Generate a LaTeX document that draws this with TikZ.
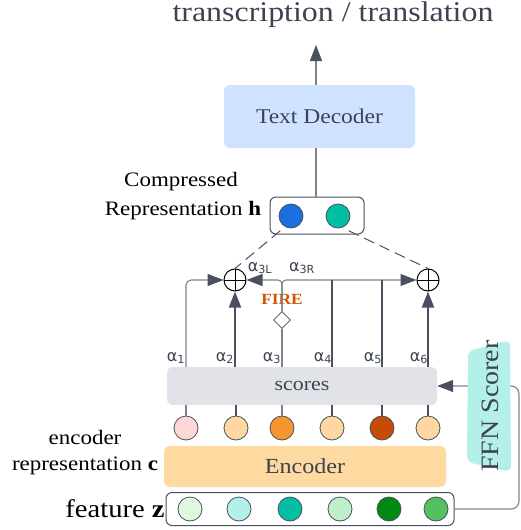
\documentclass[tikz,border=0pt]{standalone}
\usepackage{fontspec}
\setmainfont[FakeStretch=1.12]{Liberation Serif}
\newfontfamily\alfont{DejaVu Sans}
\usetikzlibrary{arrows.meta,shapes.geometric,calc}
\definecolor{txt}{HTML}{3D4350}
\definecolor{ln}{HTML}{7B8290}
\definecolor{dk}{HTML}{4A5060}
\definecolor{decb}{HTML}{CFE2FF}
\definecolor{scb}{HTML}{E1E3E8}
\definecolor{encb}{HTML}{FED9A0}
\definecolor{ffnb}{HTML}{B4F0EA}
\definecolor{fire}{HTML}{D35400}
\definecolor{hA}{HTML}{1A6FDF}
\definecolor{hB}{HTML}{00BFA5}
\definecolor{cA}{HTML}{FDD6D6}
\definecolor{cB}{HTML}{FED8A0}
\definecolor{cC}{HTML}{F7962E}
\definecolor{cE}{HTML}{C64B06}
\definecolor{zA}{HTML}{E0F8E0}
\definecolor{zB}{HTML}{B2F0E8}
\definecolor{zC}{HTML}{00BFA5}
\definecolor{zD}{HTML}{C0F0C8}
\definecolor{zE}{HTML}{008A14}
\definecolor{zF}{HTML}{55C060}
\begin{document}
\begin{tikzpicture}[x=1pt,y=-1pt,
  tip/.style={-{Triangle[length=16pt,width=12pt,color=dk]}},
  thinln/.style={draw=ln,line width=1.1pt},
  thickln/.style={draw=dk,line width=2pt},
  boxst/.style={rounded corners=6pt,draw=none,text=txt},
  dot/.style={circle,draw=dk,line width=0.8pt,minimum size=24pt,inner sep=0pt},
  oplus/.style={circle,draw=black,line width=1pt,minimum size=22pt,inner sep=0pt,
    path picture={\draw[black,line width=1pt] (path picture bounding box.north)--(path picture bounding box.south) (path picture bounding box.west)--(path picture bounding box.east);}},
  al/.style={text=txt,font=\alfont\fontsize{16}{16}\selectfont,inner sep=0pt},
  lbl/.style={text=black,font=\fontsize{20.5}{20.5}\selectfont,inner sep=0pt}
]
\useasboundingbox (0,0) rectangle (520,530);
% title
\node[text=txt,font=\fontsize{28.5}{28.5}\selectfont] (title) at (333,15) {transcription / translation};
\coordinate (tipT) at (316,45);
% decoder
\node[boxst,fill=decb,minimum width=191pt,minimum height=63pt,font=\fontsize{21}{21}\selectfont] (dec) at (319.5,116.5) {Text Decoder};
\draw[thinln,tip] (dec.north -| tipT) -- (tipT);
% h box
\node[draw=dk,line width=1pt,rounded corners=6pt,minimum width=94pt,minimum height=37pt] (hbox) at (317,215.5) {};
\draw[thinln] (316,148) -- (316,197);
\node[dot,fill=hA] (h1) at (291,216) {};
\node[dot,fill=hB] (h2) at (338,216) {};
\node[lbl,align=center] (lcomp) at (181,182) {Compressed};
\node[lbl] (lrep) at (183,211) {Representation \textbf{h}};
% oplus
\node[oplus] (pL) at (235,280) {};
\node[oplus] (pR) at (428,280) {};
\draw[draw=dk,line width=1pt,dash pattern=on 11pt off 6pt] (h1.south west) ++(-2,6) coordinate (d1) (d1) -- (pL.north);
\draw[draw=dk,line width=1pt,dash pattern=on 11pt off 6pt] (h2.south east) ++(2,6) coordinate (d2) (d2) -- (pR.north);
% scores box
\node[boxst,fill=scb,minimum width=270pt,minimum height=38pt,font=\fontsize{19.5}{19.5}\selectfont] (sc) at (302,386) {scores};
% encoder circles
\foreach \x/\c/\n in {186/cA/1,236/cB/2,282/cC/3,332/cB/4,382/cE/5,428/cB/6}{
  \node[dot,fill=\c] (e\n) at (\x,428) {};
}
\draw[thinln] (sc.south -| e1) -- (e1.north);
\draw[thickln] (sc.south -| e2) -- (e2.north);
\draw[thinln] (sc.south -| e3) -- (e3.north);
\draw[thickln] (sc.south -| e4) -- (e4.north);
\draw[thickln] (sc.south -| e5) -- (e5.north);
\draw[thickln] (sc.south -| e6) -- (e6.north);
% encoder
\node[boxst,fill=encb,minimum width=282pt,minimum height=41pt,font=\fontsize{21.5}{21.5}\selectfont] (enc) at (305,466.5) {Encoder};
\node[lbl] (lenc1) at (85,437) {encoder};
\node[lbl] (lenc2) at (85,466) {representation \textbf{c}};
% feature box
\node[draw=dk,line width=1pt,rounded corners=6pt,minimum width=288pt,minimum height=33pt] (fbox) at (310,509) {};
\foreach \x/\c/\n in {190/zA/1,239/zB/2,290/zC/3,340/zD/4,389/zE/5,436/zF/6}{
  \node[dot,fill=\c] (z\n) at (\x,509) {};
}
\node[text=black,font=\fontsize{25.5}{25.5}\selectfont,inner sep=0pt] (lfeat) at (115,509) {feature \textbf{z}};
% FFN path and scorer
\coordinate (rb) at (519,509);
\draw[thinln,rounded corners=8pt,tip] (fbox.east) -- (rb) -- (519,386) -- (sc.east);
\path[fill=ffnb,rounded corners=6pt] (468,351) -- (510,340) -- (511,472) -- (467,462) -- cycle;
\node[text=txt,rotate=90,font=\fontsize{25}{25}\selectfont] (ffn) at (490,406) {FFN Scorer};
% alpha paths
\node[al] (a1) at (176,358) {α\textsubscript{1}};
\node[al] (a2) at (225,358) {α\textsubscript{2}};
\node[al] (a3) at (272,358) {α\textsubscript{3}};
\node[al] (a4) at (323,358) {α\textsubscript{4}};
\node[al] (a5) at (373,358) {α\textsubscript{5}};
\node[al] (a6) at (419,358) {α\textsubscript{6}};
\node[al] (a3L) at (260,268) {α\textsubscript{3L}};
\node[al] (a3R) at (302,268) {α\textsubscript{3R}};
\draw[thinln,rounded corners=5pt,tip] (sc.north -| e1) -- (186,280) -- (pL.west);
\draw[thickln,tip] (sc.north -| pL) -- (pL.south);
\draw[thickln,tip] (sc.north -| pR) -- (pR.south);
% FIRE
\node[diamond,draw=dk,fill=white,line width=0.8pt,minimum width=17pt,minimum height=17pt,inner sep=0pt] (dia) at (282,320) {};
\node[text=fire,font=\bfseries\fontsize{15.5}{15.5}\selectfont,inner sep=0pt] (fire) at (282,299) {FIRE};
\draw[thinln] (sc.north -| dia) -- (dia.south);
\draw[thinln,rounded corners=4pt,tip] (dia.north) -- (282,280) -- (pL.east);
\draw[thinln,rounded corners=4pt,tip] (dia.north) -- (282,280) -- (pR.west);
\draw[thickln] (sc.north -| e4) -- (332,280);
\draw[thickln] (sc.north -| e5) -- (382,280);
\end{tikzpicture}
\end{document}
